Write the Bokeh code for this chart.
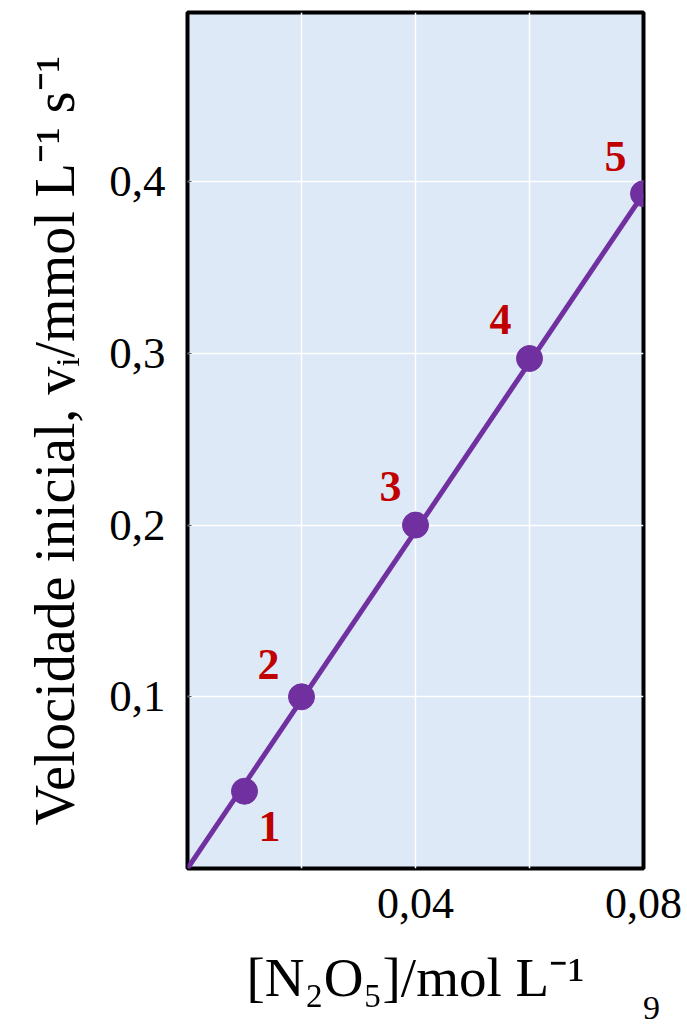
from bokeh.plotting import figure
from bokeh.models import FixedTicker, ColumnDataSource, Range1d, Div
from bokeh.layouts import column
from bokeh.core.properties import value
from bokeh.embed import file_html
from bokeh.resources import INLINE

# data
conc = [0.01, 0.02, 0.04, 0.06, 0.08]
rate = [0.045, 0.100, 0.200, 0.297, 0.393]
point_labels = ["1", "2", "3", "4", "5"]
fit_x = [0.0, 0.08]
fit_y = [0.0, 0.393]
x_ticks = [0.02, 0.04, 0.06, 0.08]
x_tick_labels = ["", "0,04", "", "0,08"]
y_ticks = [0.1, 0.2, 0.3, 0.4]
y_tick_labels = ["0,1", "0,2", "0,3", "0,4"]
page_number = "9"

# label placement (screen px offsets)
lab_dx = [25, -33, -25, -29, -28]
lab_dy = [35, -32, -39, -39, -37]

SERIF = "Liberation Serif"

p = figure(width=687, height=1025, output_backend="svg", toolbar_location=None,
           x_range=Range1d(0, 0.08), y_range=Range1d(0, 0.4985),
           min_border_left=187, min_border_right=44, min_border_top=12, min_border_bottom=157)
p.background_fill_color = "#dde9f6"
p.border_fill_color = "white"
p.outline_line_color = "black"
p.outline_line_width = 4

p.xaxis.ticker = FixedTicker(ticks=x_ticks)
p.xaxis.major_label_overrides = {t: l for t, l in zip(x_ticks, x_tick_labels)}
p.yaxis.ticker = FixedTicker(ticks=y_ticks)
p.yaxis.major_label_overrides = {t: l for t, l in zip(y_ticks, y_tick_labels)}
for ax in (p.xaxis, p.yaxis):
    ax.axis_line_color = None
    ax.major_label_text_font = SERIF
    ax.major_label_text_font_size = "45px"
    ax.major_label_text_color = "black"
    ax.axis_label_text_font = SERIF
    ax.axis_label_text_font_style = "normal"
    ax.axis_label_text_color = "black"
    ax.minor_tick_line_color = None
p.xaxis.major_label_text_font_size = "44px"
p.xaxis.axis_label_text_font_size = "55px"
p.yaxis.axis_label_text_font_size = "56px"
p.xaxis.major_tick_line_color = None
p.yaxis.major_tick_in = 4
p.yaxis.major_tick_out = 0
p.yaxis.major_tick_line_color = "#555555"
p.xaxis.major_label_standoff = 14
p.yaxis.major_label_standoff = 22
p.xaxis.axis_label = "[N\u2082O\u2085]/mol L\u207b\u00b9"
p.yaxis.axis_label = "Velocidade inicial, v\u1d62/mmol L\u207b\u00b9 s\u207b\u00b9"
p.xaxis.axis_label_standoff = 26
p.yaxis.axis_label_standoff = 20

p.xgrid.ticker = FixedTicker(ticks=x_ticks)
p.ygrid.ticker = FixedTicker(ticks=y_ticks)
p.grid.grid_line_color = "white"
p.grid.grid_line_width = 1.5

p.line(fit_x, fit_y, line_color="#7030a0", line_width=5)
src = ColumnDataSource(dict(x=conc, y=rate, t=point_labels, dx=lab_dx, dy=lab_dy))
p.scatter("x", "y", source=src, size=26, fill_color="#7030a0", line_color="#7030a0")
p.text("x", "y", text="t", source=src, x_offset="dx", y_offset="dy",
       text_font=value(SERIF), text_font_style="bold", text_font_size="44px",
       text_color="#c00000", text_align="center", text_baseline="middle")

page_div = Div(text='<div style="position:absolute; left:643px; top:-7px; '
                    'font-family:\'Liberation Serif\'; font-size:34px; line-height:1; color:black;">'
                    + page_number + '</div>',
               width=687, height=27, margin=(-27, 0, 0, 0))

layout = column(p, page_div, spacing=0)
open("out.html", "w").write(file_html(layout, INLINE))
